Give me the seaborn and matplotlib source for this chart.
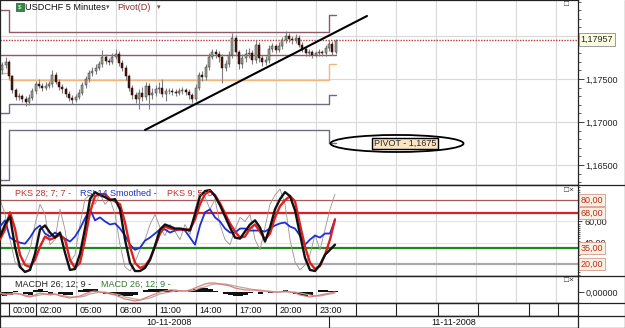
import numpy as np
import pandas as pd
import matplotlib
matplotlib.use('Agg')
import matplotlib.pyplot as plt
import seaborn as sns
from matplotlib.patches import Ellipse, Rectangle
from matplotlib.lines import Line2D
from matplotlib.ticker import FuncFormatter, MultipleLocator, FixedLocator

sns.set_style('white')
plt.rcParams['font.family'] = ['Liberation Sans', 'DejaVu Sans']

# ---------------- data ----------------
# 15-minute candles, time in hours from 10-11-2008 00:00
candle_start, candle_step = -0.5, 0.25
closes = [1.1766, 1.1770, 1.1753, 1.1737, 1.1729, 1.1730, 1.1727, 1.1723, 1.1728, 1.1736,
          1.1744, 1.1742, 1.1740, 1.1742, 1.1744, 1.1755, 1.1747, 1.1741, 1.1738, 1.1733,
          1.1728, 1.1726, 1.1729, 1.1734, 1.1743, 1.1750, 1.1757, 1.1759, 1.1763, 1.1767,
          1.1776, 1.1771, 1.1770, 1.1776, 1.1779, 1.1769, 1.1763, 1.1753, 1.1740, 1.1731,
          1.1727, 1.1734, 1.1729, 1.1742, 1.1731, 1.1734, 1.1738, 1.1740, 1.1733, 1.1736,
          1.1736, 1.1735, 1.1734, 1.1736, 1.1737, 1.1735, 1.1731, 1.1727, 1.1740, 1.1755,
          1.1752, 1.1764, 1.1776, 1.1781, 1.1779, 1.1776, 1.1763, 1.1767, 1.1778, 1.1798,
          1.1781, 1.1767, 1.1774, 1.1779, 1.1780, 1.1772, 1.1790, 1.1774, 1.1770, 1.1772,
          1.1785, 1.1788, 1.1784, 1.1788, 1.1795, 1.1800, 1.1797, 1.1795, 1.1798, 1.1790,
          1.1785, 1.1780, 1.1781, 1.1778, 1.1780, 1.1781, 1.1780, 1.1786, 1.1791, 1.1781,
          1.1794]
opens = [1.1760] + closes[:-1]
highs = [1.1770, 1.1776, 1.1772, 1.1755, 1.1740, 1.1734, 1.1733, 1.1730, 1.1732, 1.1739,
         1.1748, 1.1750, 1.1745, 1.1746, 1.1748, 1.1760, 1.1758, 1.1750, 1.1744, 1.1741,
         1.1736, 1.1731, 1.1733, 1.1738, 1.1747, 1.1754, 1.1761, 1.1764, 1.1767, 1.1771,
         1.1784, 1.1779, 1.1775, 1.1780, 1.1785, 1.1782, 1.1772, 1.1766, 1.1756, 1.1743,
         1.1735, 1.1738, 1.1741, 1.1746, 1.1745, 1.1739, 1.1743, 1.1746, 1.1750, 1.1740,
         1.1740, 1.1739, 1.1738, 1.1740, 1.1741, 1.1740, 1.1738, 1.1734, 1.1744, 1.1758,
         1.1759, 1.1768, 1.1780, 1.1785, 1.1785, 1.1783, 1.1779, 1.1772, 1.1783, 1.1804,
         1.1801, 1.1784, 1.1779, 1.1785, 1.1786, 1.1784, 1.1795, 1.1793, 1.1778, 1.1777,
         1.1789, 1.1792, 1.1791, 1.1793, 1.1799, 1.1806, 1.1803, 1.1800, 1.1802, 1.1801,
         1.1793, 1.1788, 1.1785, 1.1784, 1.1783, 1.1785, 1.1784, 1.1790, 1.1795, 1.1794,
         1.1797]
lows = [1.1756, 1.1763, 1.1750, 1.1734, 1.1725, 1.1726, 1.1723, 1.1719, 1.1720, 1.1725,
        1.1733, 1.1739, 1.1736, 1.1737, 1.1739, 1.1741, 1.1744, 1.1737, 1.1734, 1.1729,
        1.1724, 1.1721, 1.1723, 1.1727, 1.1731, 1.1740, 1.1747, 1.1754, 1.1756, 1.1760,
        1.1764, 1.1767, 1.1766, 1.1767, 1.1773, 1.1765, 1.1759, 1.1749, 1.1736, 1.1727,
        1.1722, 1.1715, 1.1724, 1.1726, 1.1715, 1.1727, 1.1730, 1.1734, 1.1729, 1.1724,
        1.1732, 1.1731, 1.1730, 1.1731, 1.1733, 1.1731, 1.1727, 1.1722, 1.1724, 1.1737,
        1.1748, 1.1749, 1.1761, 1.1773, 1.1775, 1.1770, 1.1745, 1.1759, 1.1764, 1.1775,
        1.1777, 1.1762, 1.1763, 1.1770, 1.1775, 1.1767, 1.1769, 1.1770, 1.1765, 1.1766,
        1.1769, 1.1781, 1.1780, 1.1781, 1.1785, 1.1792, 1.1793, 1.1791, 1.1792, 1.1787,
        1.1781, 1.1777, 1.1777, 1.1775, 1.1776, 1.1777, 1.1777, 1.1777, 1.1783, 1.1778,
        1.1779]

# daily pivot levels (step lines): day start hours and level per day
pivot_day_starts = [-1.0, 0.0, 24.0, 24.5]
level_r2 = [1.1830, 1.1805, 1.1824]
level_r1 = [1.1778, 1.1778, 1.1778]
level_pp = [1.1757, 1.1749, 1.1767]
level_s1 = [1.1710, 1.1721, 1.1731]
level_s2 = [1.1633, 1.1691, 1.1675]
last_price = 1.17957

# oscillators sampled every 22.5 minutes
osc_start, osc_step = -0.675, 0.375
pks_slow_black = [45.7, 57.1, 64.8, 36.2, 17.1, 12.4, 14.3, 29.5, 52.4, 56.2, 49.5, 44.8, 49.5, 30.5,
                  14.3, 15.2, 29.5, 53.3, 81.0, 87.6, 84.8, 82.9, 80.0, 81.0, 71.4, 42.9, 21.0, 13.3,
                  13.3, 16.2, 23.8, 37.1, 52.4, 57.1, 55.2, 53.3, 53.3, 52.4, 51.4, 66.7, 83.8, 88.6,
                  89.5, 83.8, 75.2, 64.8, 54.3, 44.8, 43.8, 50.5, 57.1, 61.0, 54.3, 41.0, 54.3, 71.4,
                  81.0, 87.6, 83.8, 70.5, 47.6, 25.7, 14.3, 13.3, 19.0, 28.6, 33.3, 38.1]
pks_slow_red = [42.9, 52.4, 68.6, 53.3, 28.6, 19.0, 17.1, 23.8, 36.2, 45.7, 42.9, 44.8, 47.6, 42.9,
                23.8, 16.2, 21.0, 42.9, 68.6, 83.8, 85.7, 85.7, 81.0, 79.0, 76.2, 59.0, 36.2, 21.0,
                16.2, 18.1, 24.8, 36.2, 48.6, 55.2, 53.3, 52.4, 52.4, 52.4, 52.4, 61.9, 76.2, 85.7,
                88.6, 84.8, 77.1, 67.6, 58.1, 50.5, 44.8, 45.7, 53.3, 57.1, 50.5, 42.9, 48.6, 63.8,
                74.3, 80.0, 83.8, 79.0, 57.1, 36.2, 21.0, 15.2, 18.1, 28.6, 42.9, 61.9]
rsi_smoothed = [55.2, 61.0, 44.8, 41.9, 40.0, 39.0, 44.8, 52.4, 56.2, 48.6, 45.7, 49.5, 46.7, 43.8,
                41.0, 45.7, 53.3, 62.9, 71.4, 61.0, 63.8, 60.0, 57.1, 58.1, 53.3, 46.7, 38.1, 33.3,
                35.2, 41.9, 44.8, 48.6, 52.4, 52.4, 49.5, 51.4, 52.4, 51.4, 44.8, 38.1, 56.2, 68.6,
                71.4, 63.8, 60.0, 53.3, 49.5, 49.5, 53.3, 53.3, 51.4, 51.4, 51.4, 50.5, 53.3, 56.2,
                58.1, 59.0, 55.2, 53.3, 46.7, 38.1, 42.9, 46.7, 44.8, 48.6, 48.6, 61.9]
pks_fast = [81.0, 66.7, 42.9, 21.9, 16.2, 21.9, 33.3, 57.1, 76.2, 66.7, 38.1, 42.9, 71.4, 52.4,
            21.9, 28.6, 57.1, 81.0, 84.8, 76.2, 85.7, 76.2, 81.0, 66.7, 38.1, 17.1, 13.3, 21.9,
            33.3, 42.9, 57.1, 66.7, 54.3, 46.7, 57.1, 50.5, 42.9, 57.1, 47.6, 71.4, 87.6, 82.9,
            71.4, 81.0, 57.1, 42.9, 38.1, 52.4, 63.8, 60.0, 66.7, 42.9, 33.3, 54.3, 76.2, 84.8,
            90.5, 76.2, 42.9, 21.9, 14.3, 19.0, 28.6, 47.6, 33.3, 52.4, 71.4, 85.7]
oscillator_levels = [80, 68, 35, 20]

# MACD (in units of 0.0001)
macd_line = [-1, -3, -2, -1, -2, -4, -5, -3, -1, -2, -3, -2, -4, -5, -6, -5, -4, -2, 0, 1, 0, -1,
             -2, -3, -5, -7, -8, -9, -8, -6, -4, -2, 0, 1, 2, 2, 1, 1, 2, 4, 6, 8, 9, 9, 8, 7, 6,
             4, 3, 2, 2, 2, 1, 1, 0, 0, 0, 1, 0, -1, -3, -4, -5, -4, -3, -2, -1, 0]
macd_signal = [-1, -2, -2, -2, -2, -3, -4, -4, -3, -2, -2, -2, -3, -4, -5, -5, -5, -4, -2, -1, 0,
               0, -1, -2, -3, -5, -6, -7, -8, -7, -6, -4, -2, -1, 0, 1, 1, 1, 1, 2, 4, 5, 7, 8, 8,
               8, 7, 6, 5, 4, 3, 2, 2, 1, 1, 0, 0, 0, 0, 0, -1, -2, -3, -4, -4, -3, -2, -1]
macd_hist = [-3, -4, -3, 1, 0, -2, -3, 2, 3, 1, -2, 0, -2, -3, -3, 0, 2, 3, 3, 3, 0, -2, -2, -3, -4,
             -4, -4, -3, 0, 2, 3, 3, 3, 3, 2, 1, 0, 0, 2, 3, 4, 4, 3, 1, 0, -2, -3, -4, -4, -3, -1,
             0, -2, 0, -1, 0, 0, 2, 0, -2, -3, -4, -3, 0, 2, 2, 1, 1]
MACD_UNIT = 0.0001

time_labels = ['00:00', '02:00', '05:00', '08:00', '11:00', '14:00', '17:00', '20:00', '23:00']
time_label_hours = [0, 2, 5, 8, 11, 14, 17, 20, 23]
blank_slot_hours = [26, 29, 32.2, 35.2, 39, 41.2]
date_labels = ['10-11-2008', '11-11-2008']
date_bounds = [0, 24]

# ---------------- layout ----------------
W, H = 625, 328
PX_PER_H = 40 / 3.0
X0 = 9


def h_of(px):
    return (px - X0) / PX_PER_H


XL = (h_of(0), h_of(578))

fig = plt.figure(figsize=(6.25, 3.28), dpi=100)
fig.patch.set_facecolor('white')


def rect(x0, y0, x1, y1):
    return [x0 / W, 1 - y1 / H, (x1 - x0) / W, (y1 - y0) / H]


ax_p = fig.add_axes(rect(0, 0, 578, 185))
ax_o = fig.add_axes(rect(0, 185, 578, 276))
ax_m = fig.add_axes(rect(0, 276, 578, 303))
ax_t = fig.add_axes(rect(0, 303, 578, 316))
ax_d = fig.add_axes(rect(0, 316, 578, 328))

FS = 6.5
grid_hours = [2, 5, 8, 11, 14, 17, 20, 23, 26, 29, 32, 35, 38, 41]
for ax in (ax_p, ax_o, ax_m, ax_t, ax_d):
    ax.set_xlim(*XL)
    ax.set_facecolor('white')
    for s in ax.spines.values():
        s.set_color('#222222')
        s.set_linewidth(0.9)
    ax.set_xticks([])
    ax.set_xlabel('')
    ax.set_ylabel('')
for ax in (ax_p, ax_o, ax_m):
    for gh in grid_hours:
        ax.axvline(gh, color='#d9d9d9', lw=0.8, zorder=0)

# ---------------- price panel ----------------
ax_p.set_ylim(1.16267, 1.18419)
for gy in [1.165, 1.170, 1.175, 1.180]:
    ax_p.axhline(gy, color='#d9d9d9', lw=0.8, zorder=0)

ct = candle_start + candle_step * np.arange(len(closes))
o = np.array(opens); c = np.array(closes)
ax_p.vlines(ct, lows, highs, color='#7f7f7f', lw=0.8, zorder=3)
up = c >= o
body_lo = np.minimum(o, c)
body_h = np.maximum(np.abs(c - o), 0.00005)
ax_p.bar(ct[up], body_h[up], bottom=body_lo[up], width=0.17, color='#9ea796',
         edgecolor='#2e2e2e', linewidth=0.35, zorder=4)
ax_p.bar(ct[~up], body_h[~up], bottom=body_lo[~up], width=0.17, color='#45140f',
         edgecolor='#300c0a', linewidth=0.35, zorder=4)

piv_specs = [(level_r2, '#8b5b68'), (level_r1, '#8b5b68'), (level_pp, '#f2b77a'),
             (level_s1, '#6e6b86'), (level_s2, '#6e6b86')]
for lv, col in piv_specs:
    ax_p.plot(pivot_day_starts, lv + [lv[-1]], drawstyle='steps-post', color=col, lw=1.0, zorder=2)

ax_p.axhline(last_price, color='#b83a3a', lw=1.0, ls=(0, (1, 1)), zorder=2)

# hand-drawn trendline annotation
trend_h = [h_of(145), h_of(367)]
trend_p = [1.16907, 1.18233]
ax_p.plot(trend_h, trend_p, color='black', lw=1.5, zorder=6)

ell = Ellipse((h_of(397), 1.1675), width=133 / PX_PER_H, height=0.00198,
              fill=False, ec='black', lw=1.3, zorder=6)
ax_p.add_patch(ell)
ax_p.text(h_of(405), 1.1675, 'PIVOT - 1,1675', fontsize=FS, ha='center', va='center',
          zorder=7, bbox=dict(boxstyle='square,pad=0.15', fc='#fbe4c4', ec='black', lw=1.0))

ax_p.yaxis.tick_right()
ax_p.yaxis.set_major_locator(FixedLocator([1.165, 1.170, 1.175]))
ax_p.yaxis.set_minor_locator(MultipleLocator(0.001))
ax_p.yaxis.set_major_formatter(FuncFormatter(lambda v, p: f'{v:.5f}'.replace('.', ',')))
ax_p.tick_params(axis='y', which='major', direction='out', length=4, width=0.6,
                 labelsize=FS, pad=1.5, colors='#222222')
ax_p.tick_params(axis='y', which='minor', direction='out', length=2, width=0.5, colors='#222222')
ax_p.text(1.004, last_price, '1,17957', transform=ax_p.get_yaxis_transform(),
          fontsize=FS, va='center', ha='left', zorder=8, clip_on=False,
          bbox=dict(boxstyle='square,pad=0.2', fc='#fdfde2', ec='#8c8c8c', lw=0.6))

# legend of price panel
fig.add_artist(Rectangle((16 / W, 1 - 11 / H), 8 / W, 8 / H, transform=fig.transFigure,
                         fc='#2f8a45', ec='#1d5a2b', lw=0.5))
fig.text(20 / W, 1 - 7 / H, '$', fontsize=4.5, color='white', ha='center', va='center')
fig.text(25 / W, 1 - 7 / H, 'USDCHF 5 Minutes', fontsize=6.6, va='center', ha='left', color='#111111')
fig.text(108 / W, 1 - 7.5 / H, '▾', fontsize=5, va='center', ha='center', color='#555555')
fig.text(117 / W, 1 - 7 / H, 'Pivot(D)', fontsize=6.6, va='center', ha='left', color='#8a2e2e')
fig.text(159 / W, 1 - 7.5 / H, '▾', fontsize=5, va='center', ha='center', color='#8a2e2e')
fig.text(566 / W, 1 - 5 / H, '□', fontsize=6, va='center', ha='center', color='#333333')

# ---------------- oscillator panel ----------------
ax_o.set_ylim(8.6, 94.3)
ot = osc_start + osc_step * np.arange(len(pks_slow_black))
osc_df = pd.DataFrame({'t': ot, 'black': pks_slow_black, 'red': pks_slow_red,
                       'rsi': rsi_smoothed, 'fast': pks_fast})
ax_o.axhline(60, color='#e3e3e3', lw=0.8, zorder=0)
ax_o.axhline(40, color='#e3e3e3', lw=0.8, zorder=0)
lvl_style = {80: ('#a85a5a', 0.9), 68: ('#e02020', 1.6), 35: ('#1a8a1a', 1.6), 20: ('#aaaaaa', 1.6)}
for lv in oscillator_levels:
    col, lw = lvl_style[lv]
    ax_o.axhline(lv, color=col, lw=lw, zorder=1)
sns.lineplot(data=osc_df, x='t', y='fast', ax=ax_o, color='#a09090', lw=0.6, zorder=2)
sns.lineplot(data=osc_df, x='t', y='rsi', ax=ax_o, color='#1e2fd0', lw=1.3, zorder=3)
sns.lineplot(data=osc_df, x='t', y='red', ax=ax_o, color='#e02020', lw=1.7, zorder=4)
sns.lineplot(data=osc_df, x='t', y='black', ax=ax_o, color='#111111', lw=1.7, zorder=5)
ax_o.set_xlim(*XL)
ax_o.set_xlabel(''); ax_o.set_ylabel('')
ax_o.yaxis.tick_right()
ax_o.yaxis.set_major_locator(FixedLocator([60, 40]))
ax_o.yaxis.set_minor_locator(MultipleLocator(2))
ax_o.yaxis.set_major_formatter(FuncFormatter(lambda v, p: f'{v:.2f}'.replace('.', ',')))
ax_o.tick_params(axis='y', which='major', direction='out', length=3, width=0.6,
                 labelsize=FS, pad=1.5, colors='#222222')
ax_o.tick_params(axis='y', which='minor', direction='out', length=1.5, width=0.5, colors='#222222')
for lv in oscillator_levels:
    ax_o.text(1.004, lv, f'{lv:.2f}'.replace('.', ','), transform=ax_o.get_yaxis_transform(),
              fontsize=FS, va='center', ha='left', color='#b3321f', zorder=8, clip_on=False,
              bbox=dict(boxstyle='square,pad=0.2', fc='#fdeee2', ec='#d49a86', lw=0.6))
fig.text(15 / W, 1 - 193 / H, 'PKS 28; 7; 7 -', fontsize=FS, va='center', color='#c43131')
fig.text(80 / W, 1 - 193 / H, 'RSI 14 Smoothed -', fontsize=FS, va='center', color='#2231c0')
fig.text(167 / W, 1 - 193 / H, 'PKS 9; 5; 5', fontsize=FS, va='center', color='#c43131')
fig.text(569 / W, 1 - 191 / H, '□×', fontsize=6, va='center', ha='center', color='#333333')

# ---------------- MACD panel ----------------
ax_m.set_ylim(-0.0011, 0.0016)
macd_df = pd.DataFrame({'t': ot, 'macd': np.array(macd_line) * MACD_UNIT,
                        'signal': np.array(macd_signal) * MACD_UNIT,
                        'hist': np.array(macd_hist) * MACD_UNIT})
ax_m.bar(macd_df['t'], macd_df['hist'], width=osc_step, color='#111111', linewidth=0, zorder=2)
sns.lineplot(data=macd_df, x='t', y='signal', ax=ax_m, color='#b9a8a0', lw=0.9, zorder=3)
sns.lineplot(data=macd_df, x='t', y='macd', ax=ax_m, color='#e07a7a', lw=0.9, zorder=4)
ax_m.set_xlim(*XL)
ax_m.set_xlabel(''); ax_m.set_ylabel('')
ax_m.yaxis.tick_right()
ax_m.yaxis.set_major_locator(FixedLocator([0.0]))
ax_m.yaxis.set_major_formatter(FuncFormatter(lambda v, p: '0,00000'))
ax_m.tick_params(axis='y', which='major', direction='out', length=4, width=0.6,
                 labelsize=FS, pad=1.5, colors='#222222')
fig.text(15 / W, 1 - 284 / H, 'MACDH 26; 12; 9 -', fontsize=FS, va='center', color='#222222')
fig.text(101 / W, 1 - 284 / H, 'MACD 26; 12; 9 -', fontsize=FS, va='center', color='#2e7a2e')
fig.text(569 / W, 1 - 280 / H, '□×', fontsize=6, va='center', ha='center', color='#333333')

# ---------------- time / date axes ----------------
for ax in (ax_t, ax_d):
    ax.set_ylim(0, 1)
    ax.set_yticks([])
for hh, lab in zip(time_label_hours, time_labels):
    ax_t.axvline(hh, color='#222222', lw=0.8)
    ax_t.text(hh + 0.3, 0.45, lab, fontsize=FS, va='center', ha='left', color='#111111')
for hh in blank_slot_hours:
    ax_t.axvline(hh, color='#222222', lw=0.8)
ax_d.axvline(date_bounds[1], color='#222222', lw=0.8)
ax_d.text((date_bounds[0] + date_bounds[1]) / 2, 0.45, date_labels[0], fontsize=FS,
          ha='center', va='center', color='#111111')
ax_d.text((date_bounds[1] + XL[1]) / 2, 0.45, date_labels[1], fontsize=FS,
          ha='center', va='center', color='#111111')

# outer frame lines across the right column
for yy in (185, 276, 303, 316):
    fig.add_artist(Line2D([0, 1], [1 - yy / H, 1 - yy / H], transform=fig.transFigure,
                          color='#222222', lw=0.9))
fig.add_artist(Line2D([624.5 / W, 624.5 / W], [0, 1], transform=fig.transFigure,
                      color='#222222', lw=0.9))
fig.add_artist(Line2D([0, 1], [0.5 / H, 0.5 / H], transform=fig.transFigure,
                      color='#222222', lw=0.9))

fig.savefig('out.png', dpi=100)
